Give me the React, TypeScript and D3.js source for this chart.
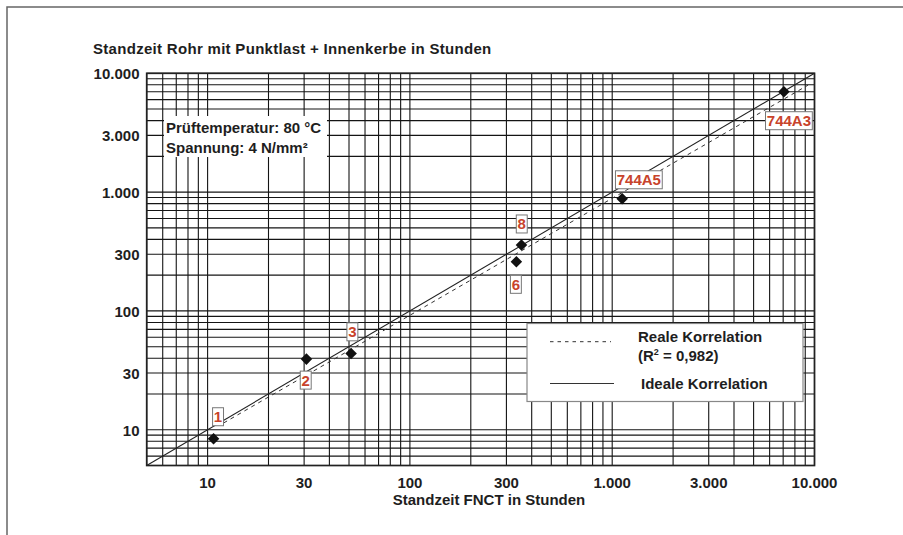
import React, { useEffect, useRef } from "react";
import * as d3 from "d3";

// sample labels and measured hours (FNCT x, pipe test y)
const sampleNames = ["1", "2", "3", "6", "8", "744A5", "744A3"];
const fnctHours = [10.7, 30.8, 51.2, 336, 356, 1120, 7060];
const pipeHours = [8.4, 39.3, 43.8, 259, 359, 879, 7000];
// label box offset from its point, px
const labelDx = [4.5, -0.7, 1.3, -0.5, 0.3, 16.7, 5];
const labelDy = [-22, 21, -21.7, 22.5, -21, -19, 29];

const tickValues = [10, 30, 100, 300, 1000, 3000, 10000];
const tickLabels = ["10", "30", "100", "300", "1.000", "3.000", "10.000"];

const realLineX = [12, 9300];
const realLineY = [11.4, 7960];
const idealLine = [5, 10000];

const FONT = "'Liberation Sans', Arial, Helvetica, sans-serif";
const RED = "#c8432b";
const INK = "#1e1e1e";

export default function App() {
  const svgRef = useRef<SVGSVGElement | null>(null);

  useEffect(() => {
    const svg = d3.select(svgRef.current);
    svg.selectAll("*").remove();

    const left = 146.7, right = 814.5, top = 73.3, bottom = 465.5;

    const x = d3.scaleLog().domain([5, 10000]).range([left, right]);
    const y = d3.scaleLog().domain([5, 10000]).range([bottom, top]);

    // outer frame (top + left)
    svg.append("path")
      .attr("d", "M7,535 L7,7 L903,7")
      .attr("fill", "none")
      .attr("stroke", "#666")
      .attr("stroke-width", 1.5);

    // title
    svg.append("text")
      .attr("x", 93).attr("y", 54)
      .attr("font-family", FONT).attr("font-weight", "bold")
      .attr("font-size", 15).attr("fill", INK)
      .attr("letter-spacing", 0.3)
      .text("Standzeit Rohr mit Punktlast + Innenkerbe in Stunden");

    // grid values: 1..9 per decade
    const gridVals: number[] = [];
    for (let e = 0; e <= 4; e++) {
      for (let m = 1; m <= 9; m++) {
        const v = m * Math.pow(10, e);
        if (v >= 5 && v <= 10000) gridVals.push(v);
      }
    }

    const grid = svg.append("g").attr("stroke", "#141414").attr("stroke-width", 1.1);
    grid.selectAll("line.v").data(gridVals).enter().append("line")
      .attr("class", "v")
      .attr("x1", d => x(d)).attr("x2", d => x(d))
      .attr("y1", top).attr("y2", bottom);
    grid.selectAll("line.h").data(gridVals).enter().append("line")
      .attr("class", "h")
      .attr("y1", d => y(d)).attr("y2", d => y(d))
      .attr("x1", left).attr("x2", right);

    svg.append("rect")
      .attr("x", left).attr("y", top)
      .attr("width", right - left).attr("height", bottom - top)
      .attr("fill", "none").attr("stroke", "#222").attr("stroke-width", 1.7);

    // info box
    svg.append("rect")
      .attr("x", 164).attr("y", 116).attr("width", 163).attr("height", 41)
      .attr("fill", "#fff");
    const info = svg.append("g")
      .attr("font-family", FONT).attr("font-weight", "bold")
      .attr("font-size", 15).attr("fill", INK);
    info.append("text").attr("x", 166).attr("y", 133).text("Prüftemperatur: 80 °C");
    info.append("text").attr("x", 166).attr("y", 153).text("Spannung: 4 N/mm²");

    // tick labels
    const ticks = svg.append("g")
      .attr("font-family", FONT).attr("font-weight", "bold")
      .attr("font-size", 15).attr("fill", INK);
    ticks.selectAll("text.y").data(tickValues).enter().append("text")
      .attr("class", "y")
      .attr("x", 139.5).attr("y", d => y(d) + 5.8)
      .attr("text-anchor", "end")
      .text((d, i) => tickLabels[i]);
    ticks.selectAll("text.x").data(tickValues).enter().append("text")
      .attr("class", "x")
      .attr("x", d => x(d)).attr("y", 488)
      .attr("text-anchor", "middle")
      .text((d, i) => tickLabels[i]);
    ticks.append("text")
      .attr("x", 489).attr("y", 505)
      .attr("text-anchor", "middle")
      .text("Standzeit FNCT in Stunden");

    // correlation lines
    const line = d3.line<[number, number]>().x(d => x(d[0])).y(d => y(d[1]));
    svg.append("path")
      .attr("d", line([[idealLine[0], idealLine[0]], [idealLine[1], idealLine[1]]]))
      .attr("fill", "none").attr("stroke", "#222").attr("stroke-width", 1.1);
    svg.append("path")
      .attr("d", line([[realLineX[0], realLineY[0]], [realLineX[1], realLineY[1]]]))
      .attr("fill", "none").attr("stroke", "#333").attr("stroke-width", 1)
      .attr("stroke-dasharray", "4,4");

    // points
    const diamond = d3.symbol().type(d3.symbolDiamond2).size(85);
    svg.selectAll("path.pt").data(sampleNames).enter().append("path")
      .attr("class", "pt")
      .attr("d", diamond)
      .attr("transform", (d, i) => `translate(${x(fnctHours[i])},${y(pipeHours[i])})`)
      .attr("fill", "#111");

    // label boxes
    const lab = svg.selectAll("g.lab").data(sampleNames).enter().append("g")
      .attr("class", "lab")
      .attr("transform", (d, i) =>
        `translate(${x(fnctHours[i]) + labelDx[i]},${y(pipeHours[i]) + labelDy[i]})`);
    lab.append("text")
      .attr("text-anchor", "middle").attr("y", 5.5)
      .attr("font-family", FONT).attr("font-weight", "bold")
      .attr("font-size", 15).attr("fill", RED)
      .text(d => d);
    lab.each(function () {
      const g = d3.select(this);
      const t = g.select("text").node() as SVGTextElement;
      const bb = t.getBBox();
      g.insert("rect", "text")
        .attr("x", bb.x - 1.3).attr("y", -9)
        .attr("width", bb.width + 2.6).attr("height", 18)
        .attr("fill", "#fff").attr("stroke", "#777").attr("stroke-width", 1);
    });

    // legend
    const lg = svg.append("g");
    lg.append("rect")
      .attr("x", 527).attr("y", 323.5).attr("width", 276).attr("height", 78)
      .attr("fill", "#fff").attr("stroke", "#888").attr("stroke-width", 1.2);
    lg.append("line")
      .attr("x1", 550).attr("x2", 611).attr("y1", 341.7).attr("y2", 341.7)
      .attr("stroke", "#333").attr("stroke-dasharray", "3.5,4");
    lg.append("line")
      .attr("x1", 550).attr("x2", 614).attr("y1", 383.5).attr("y2", 383.5)
      .attr("stroke", "#333");
    const lt = lg.append("g")
      .attr("font-family", FONT).attr("font-weight", "bold")
      .attr("font-size", 15).attr("fill", INK);
    lt.append("text").attr("x", 638).attr("y", 341.5).text("Reale Korrelation");
    const r2 = lt.append("text").attr("x", 638).attr("y", 361);
    r2.append("tspan").text("(R");
    r2.append("tspan").attr("dy", -6).attr("font-size", 9).text("2");
    r2.append("tspan").attr("dy", 6).text(" = 0,982)");
    lt.append("text").attr("x", 641).attr("y", 389).text("Ideale Korrelation");
  }, []);

  return (
    <svg
      ref={svgRef}
      width={903}
      height={535}
      style={{ position: "absolute", left: 0, top: 0, background: "#fff" }}
    />
  );
}
